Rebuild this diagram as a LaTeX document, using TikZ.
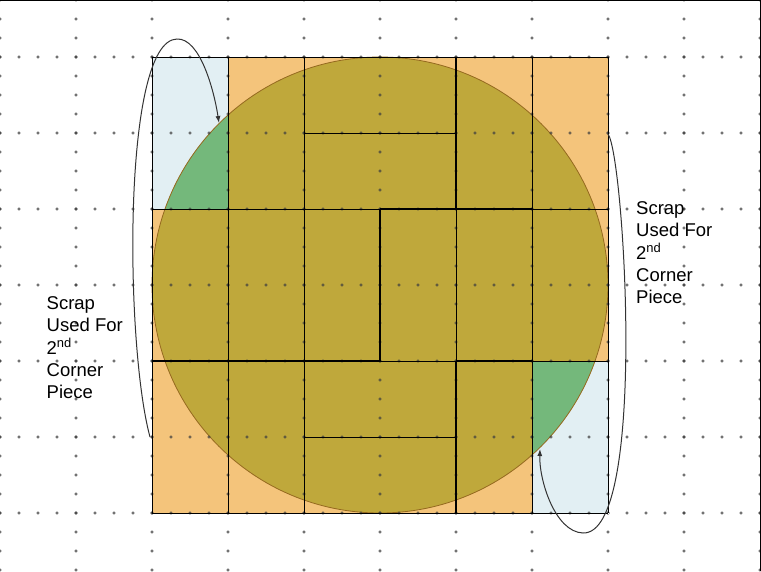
\documentclass[tikz,border=0pt]{standalone}
\usepackage{fontspec}
\setmainfont{Liberation Sans}
\usepackage{xcolor}
\usetikzlibrary{arrows.meta}

\definecolor{scrapblue}{HTML}{E2EFF3}
\definecolor{pieceorange}{HTML}{F4C47B}
\definecolor{tableolive}{HTML}{BFA83B}
\definecolor{scrapgreen}{HTML}{74B87B}
\definecolor{rimbrown}{HTML}{95691F}

\begin{document}
\begin{tikzpicture}[x=1pt, y=-1pt,
  piece/.style={draw=black, line width=0.9pt, dash pattern=on 18.1pt off 0.9pt, dash phase=18.55pt,
    preaction={draw=white, solid, line width=0.9pt}},
  seam/.style={piece, line width=2pt},
  griddot/.style={draw=black!75, line width=0.5pt},
  scraparrow/.style={draw=black!80, line width=1pt, -{Latex[length=7pt, width=5pt]}},
  scraptext/.style={align=left, inner sep=0pt, anchor=north west,
    font=\fontsize{18.5pt}{22.3pt}\selectfont}]
\useasboundingbox (0,0) rectangle (761,571);
\fill[white] (0,0) rectangle (761,571);

% fills of the pieces
\fill[scrapblue] (152,57) rectangle (228,209);
\fill[pieceorange] (228,57) rectangle (532,209);
\fill[pieceorange] (532,57) rectangle (608,209);
\fill[pieceorange] (152,209) rectangle (608,361);
\fill[pieceorange] (152,361) rectangle (532,513);
\fill[scrapblue] (532,361) rectangle (608,513);

% the round table top
\fill[tableolive] (380,285) circle[radius=228pt];
\begin{scope}
  \clip (380,285) circle[radius=228pt];
  \fill[scrapgreen] (152,57) rectangle (228,209);
  \fill[scrapgreen] (532,361) rectangle (608,513);
\end{scope}
\draw[rimbrown, line width=0.8pt] (380,285) circle[radius=228pt];

% dotted grid
\foreach \y in {57,133,...,513}
  \foreach \x in {0,19,...,760}
    \draw[griddot] (\x,\y) +(-1.2,0) -- +(0,1.2) -- +(1.2,0) -- +(0,-1.2) -- cycle;
\foreach \x in {0,76,...,760}
  \foreach \y in {0,19,...,570}
    \draw[griddot] (\x,\y) +(-1.2,0) -- +(0,1.2) -- +(1.2,0) -- +(0,-1.2) -- cycle;

% outlines of the pieces
\draw[piece] (152,57) rectangle (228,209);
\draw[piece] (228,57) rectangle (304,209);
\draw[piece] (304,57) rectangle (456,133);
\draw[piece] (304,133) rectangle (456,209);
\draw[piece] (456,57) rectangle (532,209);
\draw[piece] (532,57) rectangle (608,209);
\foreach \x in {152,228,...,532}
  \draw[piece] (\x,209) rectangle ++(76,152);
\draw[piece] (152,361) rectangle (228,513);
\draw[piece] (228,361) rectangle (304,513);
\draw[piece] (304,361) rectangle (456,437);
\draw[piece] (304,437) rectangle (456,513);
\draw[piece] (456,361) rectangle (532,513);
\draw[piece] (532,361) rectangle (608,513);

% heavier seams
\draw[seam] (456,57) -- (456,209);
\draw[seam] (380,209) -- (532,209);
\draw[seam] (380,209) -- (380,361);
\draw[seam] (152,361) -- (380,361);
\draw[seam] (456,361) -- (532,361);
\draw[seam] (456,361) -- (456,513);

% frame
\draw[black, line width=1pt] (0,0.5) -- (761,0.5);
\draw[black, line width=1pt] (760,0) -- (760,571);

% labels
\node[scraptext] (leftnote) at (46.5,296.5) {Scrap\\Used For\\2\textsuperscript{nd}\\Corner\\Piece};
\node[scraptext] (rightnote) at (636,201.5) {Scrap\\Used For\\2\textsuperscript{nd}\\Corner\\Piece};

% arrows
\coordinate (leftfrom) at (150,437);
\coordinate (lefttip) at (219,123);
\coordinate (rightfrom) at (608,134);
\coordinate (righttip) at (540,449);
\draw[scraparrow] (leftfrom) .. controls (125,345) and (122,40) .. (177,39)
  .. controls (200,38) and (214,90) .. (lefttip);
\draw[scraparrow] (rightfrom) .. controls (624,155) and (648,535) .. (583,533)
  .. controls (555,532) and (539,480) .. (righttip);
\end{tikzpicture}
\end{document}
